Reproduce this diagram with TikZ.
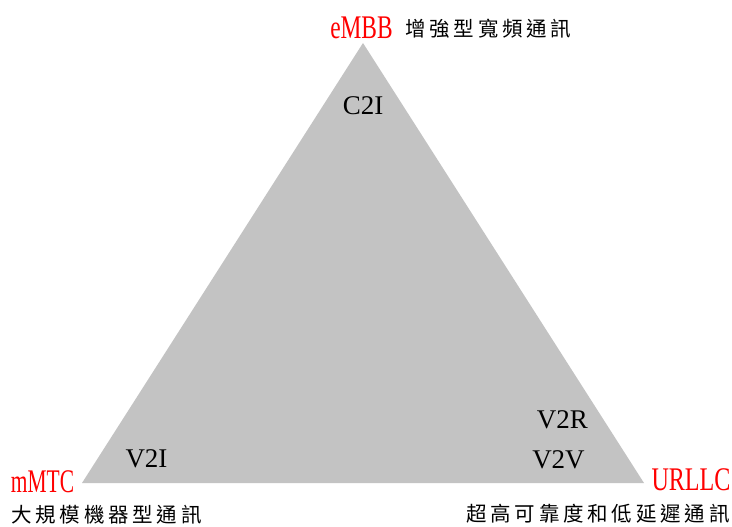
\documentclass[tikz,border=0pt]{standalone}
\usepackage{fontspec}
\setmainfont{Liberation Serif}
\newfontfamily\cjk[LetterSpace=18.5]{Noto Sans CJK TC}
\definecolor{trigray}{RGB}{195,195,195}
\begin{document}
\begin{tikzpicture}[x=1pt,y=-1pt,
  lbl/.style={inner sep=0pt, anchor=base, font=\fontsize{27}{30}\selectfont, text=black},
  corner/.style={inner sep=0pt, anchor=base, font=\fontsize{33}{36}\selectfont, text=red},
  cjktext/.style={inner sep=0pt, anchor=west, font=\fontsize{20.5}{22}\selectfont\cjk, text=black}]
\useasboundingbox (0,0) rectangle (732,527);
\coordinate (top) at (363,43);
\coordinate (bl) at (82,483);
\coordinate (br) at (644,483);
\fill[trigray] (top) -- (bl) -- (br) -- cycle;
\node[corner] (embb) at (361.5,39) {\scalebox{0.71}[1]{eMBB}};
\node[corner] (mmtc) at (42.5,492) {\scalebox{0.65}[1]{mMTC}};
\node[corner] (urllc) at (691,490) {\scalebox{0.73}[1]{URLLC}};
\node[cjktext] (embbtxt) at (405,29) {增強型寬頻通訊};
\node[cjktext] (mmtctxt) at (11,515) {大規模機器型通訊};
\node[cjktext] (urllctxt) at (466,514) {超高可靠度和低延遲通訊};
\node[lbl] (c2i) at (363,114) {C2I};
\node[lbl] (v2i) at (146.5,467) {V2I};
\node[lbl] (v2r) at (562.5,428) {V2R};
\node[lbl] (v2v) at (558.5,468) {V2V};
\end{tikzpicture}
\end{document}
